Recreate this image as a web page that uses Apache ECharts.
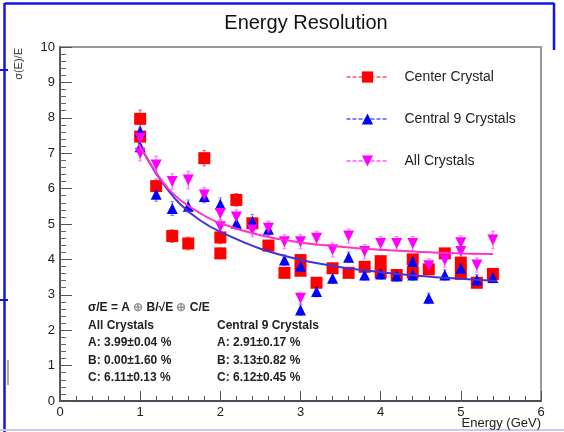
<!DOCTYPE html>
<html>
<head>
<meta charset="utf-8">
<script src="https://cdn.jsdelivr.net/npm/echarts@6/dist/echarts.min.js"></script>
<style>
html,body{margin:0;padding:0;background:#fff;}
#c{width:564px;height:432px;}
</style>
</head>
<body>
<div id="c"></div>
<script>
// ---- data ----
var xTicks = [0, 1, 2, 3, 4, 5, 6];
var yTicks = [0, 1, 2, 3, 4, 5, 6, 7, 8, 9, 10];
var xTitle = 'Energy (GeV)';
var yTitle = '\u03c3(E)/E';

var seriesNames = ['Center Crystal', 'Central 9 Crystals', 'All Crystals'];

var centerE = [1.0,1.0,1.2,1.4,1.6,1.8,2.0,2.0,2.2,2.4,2.6,2.8,3.0,3.0,3.2,3.4,3.6,3.8,4.0,4.0,4.2,4.4,4.4,4.6,4.8,5.0,5.0,5.2,5.4];
var centerV = [7.97,7.47,6.07,4.66,4.45,6.86,4.62,4.17,5.68,5.02,4.39,3.62,3.98,3.68,3.34,3.75,3.62,3.79,3.95,3.63,3.56,4.0,3.63,3.72,4.17,3.91,3.59,3.34,3.59];
var centerErr = [0.25,0.22,0.2,0.18,0.18,0.22,0.18,0.15,0.18,0.15,0.15,0.12,0.15,0.12,0.12,0.12,0.12,0.12,0.12,0.12,0.12,0.12,0.12,0.12,0.12,0.12,0.12,0.12,0.12];

var nineE = [1.0,1.0,1.2,1.4,1.6,1.8,2.0,2.2,2.4,2.6,2.8,3.0,3.0,3.2,3.4,3.6,3.8,4.0,4.2,4.4,4.4,4.6,4.8,5.0,5.2,5.4];
var nineV = [7.61,7.18,5.84,5.44,5.5,5.78,5.56,5.02,5.07,4.85,3.98,3.81,2.57,3.09,3.47,4.06,3.56,3.59,3.53,3.94,3.56,2.9,3.56,3.75,3.42,3.49];
var nineErr = [0.25,0.22,0.2,0.2,0.18,0.18,0.18,0.18,0.2,0.18,0.15,0.15,0.15,0.15,0.15,0.15,0.15,0.15,0.15,0.15,0.15,0.15,0.15,0.15,0.15,0.15];

var allE = [1.0,1.0,1.2,1.4,1.6,1.8,2.0,2.0,2.2,2.4,2.6,2.8,3.0,3.0,3.2,3.4,3.6,3.8,4.0,4.2,4.4,4.6,4.8,5.0,5.0,5.2,5.4];
var allV = [7.42,7.0,6.67,6.2,6.24,5.82,5.3,4.92,5.2,4.83,4.88,4.5,4.5,2.9,4.6,4.27,4.66,4.22,4.45,4.45,4.45,3.82,3.98,4.47,4.22,3.84,4.55];
var allErr = [0.25,0.22,0.25,0.22,0.25,0.22,0.2,0.2,0.2,0.2,0.2,0.2,0.2,0.15,0.2,0.2,0.2,0.2,0.2,0.2,0.2,0.2,0.2,0.2,0.2,0.2,0.25];

// fit curves as drawn in the reference
var nineFitE = [0.98,1.1,1.2,1.35,1.5,1.75,2.0,2.5,3.0,3.5,4.0,4.5,5.0,5.45];
var nineFitV = [7.3,6.8,6.42,5.95,5.56,5.1,4.78,4.3,3.99,3.78,3.64,3.53,3.45,3.39];
var allFitE = [0.98,1.1,1.2,1.35,1.5,1.75,2.0,2.5,3.0,3.5,4.0,4.5,5.0,5.4];
var allFitV = [7.25,6.8,6.45,6.0,5.68,5.3,5.02,4.68,4.48,4.36,4.27,4.21,4.17,4.15];

var fitTextAll = ['All Crystals', 'A: 3.99\u00b10.04 %', 'B: 0.00\u00b11.60 %', 'C: 6.11\u00b10.13 %'];
var fitTextNine = ['Central 9 Crystals', 'A: 2.91\u00b10.17 %', 'B: 3.13\u00b10.82 %', 'C: 6.12\u00b10.45 %'];

// ---- build ----
var FONT = '"Liberation Sans", Arial, Helvetica, sans-serif';
function pairs(xs, ys) { return xs.map(function (x, i) { return [x, ys[i]]; }); }
function triples(xs, ys, es) { return xs.map(function (x, i) { return [x, ys[i], es[i]]; }); }

function errSeries(xs, ys, es, color) {
  return {
    type: 'custom',
    silent: true,
    z: 1,
    data: triples(xs, ys, es),
    renderItem: function (params, api) {
      var x = api.value(0), y = api.value(1), e = api.value(2);
      var p1 = api.coord([x, y - e]);
      var p2 = api.coord([x, y + e]);
      return {
        type: 'group',
        children: [
          { type: 'line', shape: { x1: p1[0], y1: p1[1], x2: p2[0], y2: p2[1] }, style: { stroke: color, lineWidth: 1.5 } },
          { type: 'line', shape: { x1: p2[0] - 2, y1: p2[1], x2: p2[0] + 2, y2: p2[1] }, style: { stroke: color, lineWidth: 1 } },
          { type: 'line', shape: { x1: p1[0] - 2, y1: p1[1], x2: p1[0] + 2, y2: p1[1] }, style: { stroke: color, lineWidth: 1 } }
        ]
      };
    }
  };
}

function dataSeries(name, xs, ys, color, symbol, size, rotate) {
  return {
    name: name,
    type: 'line',
    z: 3,
    data: pairs(xs, ys),
    symbol: symbol,
    symbolSize: size,
    symbolRotate: rotate,
    showSymbol: true,
    showAllSymbol: true,
    itemStyle: { color: color, opacity: 1 },
    lineStyle: { color: color, width: 0, opacity: 0, type: 'dashed' },
    emphasis: { disabled: true },
    animation: false
  };
}

var chart = echarts.init(document.getElementById('c'), null, { renderer: 'canvas' });

var textLines = [];
textLines.push({
  type: 'text', left: 88, top: 302,
  style: {
    text: '\u03c3/E = A {g|\u2295} B/\u221aE {g|\u2295} C/E',
    font: 'bold 12px ' + FONT, fill: '#222',
    rich: { g: { fill: '#999', font: 'bold 12px ' + FONT } }
  }
});
var rowsY = [320, 337, 355, 372];
fitTextAll.forEach(function (t, i) {
  textLines.push({ type: 'text', left: 88, top: rowsY[i], style: { text: t, font: 'bold 12px ' + FONT, fill: '#222' } });
});
fitTextNine.forEach(function (t, i) {
  textLines.push({ type: 'text', left: 217, top: rowsY[i], style: { text: t, font: 'bold 12px ' + FONT, fill: '#222' } });
});

var deco = [
  { type: 'line', shape: { x1: 4.5, y1: 3.5, x2: 554, y2: 3.5 }, style: { stroke: '#1414e6', lineWidth: 2.5 } },
  { type: 'line', shape: { x1: 4.5, y1: 3, x2: 4.5, y2: 432 }, style: { stroke: '#1414e6', lineWidth: 2.5 } },
  { type: 'line', shape: { x1: 554, y1: 3, x2: 554, y2: 50 }, style: { stroke: '#1414e6', lineWidth: 2.5 } },
  { type: 'line', shape: { x1: 0, y1: 430, x2: 564, y2: 430 }, style: { stroke: '#c9c9f2', lineWidth: 2 } },
  { type: 'line', shape: { x1: 0, y1: 70, x2: 8, y2: 70 }, style: { stroke: '#1414e6', lineWidth: 2 } },
  { type: 'line', shape: { x1: 0, y1: 300, x2: 8, y2: 300 }, style: { stroke: '#1414e6', lineWidth: 2 } },
  { type: 'line', shape: { x1: 8, y1: 360, x2: 8, y2: 385 }, style: { stroke: '#aaaaaa', lineWidth: 2 } },
  {
    type: 'text', x: 19, y: 48, rotation: Math.PI / 2,
    style: { text: yTitle, font: '11px ' + FONT, fill: '#333', align: 'right', verticalAlign: 'middle' }
  },
  {
    type: 'text', x: 541, y: 417,
    style: { text: xTitle, font: '13px ' + FONT, fill: '#222', align: 'right', verticalAlign: 'top' }
  }
];

var option = {
  animation: false,
  backgroundColor: '#ffffff',
  textStyle: { fontFamily: FONT },
  title: {
    text: 'Energy Resolution',
    left: 301, top: 8, textAlign: 'center',
    textStyle: { fontFamily: FONT, fontSize: 20, fontWeight: 'normal', color: '#111' }
  },
  legend: {
    data: seriesNames,
    orient: 'vertical',
    left: 341, top: 65,
    itemWidth: 42, itemHeight: 14, itemGap: 28,
    textStyle: { fontFamily: FONT, fontSize: 14, color: '#222', padding: [0, 0, 0, 11] },
    lineStyle: { width: 1, opacity: 1, type: 'dashed' },
    selectedMode: false
  },
  grid: {
    left: 60, right: 23, top: 47, bottom: 31,
    containLabel: false, outerBoundsMode: 'none',
    show: true, borderColor: '#9a9a9a', borderWidth: 2, backgroundColor: 'transparent'
  },
  xAxis: {
    type: 'value', min: xTicks[0], max: xTicks[xTicks.length - 1], interval: 1,
    axisLine: { show: true, onZero: false, lineStyle: { color: '#333344', width: 1.5 } },
    axisTick: { show: true, inside: true, length: 10, lineStyle: { color: '#555' } },
    minorTick: { show: true, splitNumber: 5, length: 5, lineStyle: { color: '#555' } },
    axisLabel: { fontFamily: FONT, fontSize: 13, color: '#222', margin: 5 },
    splitLine: { show: false }
  },
  yAxis: {
    type: 'value', min: yTicks[0], max: yTicks[yTicks.length - 1], interval: 1,
    axisLine: { show: true, onZero: false, lineStyle: { color: '#444', width: 1.5 } },
    axisTick: { show: true, inside: true, length: 12, lineStyle: { color: '#555' } },
    minorTick: { show: true, splitNumber: 5, length: 6, lineStyle: { color: '#666' } },
    axisLabel: { fontFamily: FONT, fontSize: 13, color: '#222', margin: 5 },
    splitLine: { show: false }
  },
  series: [
    errSeries(centerE, centerV, centerErr, 'rgba(255,60,60,0.75)'),
    errSeries(nineE, nineV, nineErr, 'rgba(80,80,255,0.6)'),
    errSeries(allE, allV, allErr, 'rgba(255,80,255,0.7)'),
    dataSeries(seriesNames[0], centerE, centerV, '#ff0000', 'rect', 12, 0),
    dataSeries(seriesNames[1], nineE, nineV, '#0000ff', 'triangle', 11, 0),
    dataSeries(seriesNames[2], allE, allV, '#ff00ff', 'triangle', 11, 180),
    {
      type: 'line', z: 4, data: pairs(nineFitE, nineFitV), smooth: 0.4, symbol: 'none',
      lineStyle: { color: '#4433d6', width: 2 }, silent: true
    },
    {
      type: 'line', z: 4, data: pairs(allFitE, allFitV), smooth: 0.4, symbol: 'none',
      lineStyle: { color: '#ff33cc', width: 2 }, silent: true
    }
  ],
  graphic: deco.concat(textLines)
};

chart.setOption(option);
</script>
</body>
</html>
